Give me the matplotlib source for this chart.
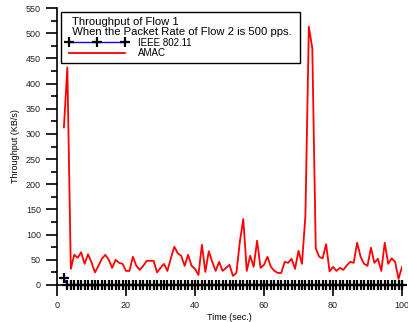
import matplotlib
matplotlib.use("Agg")
import matplotlib.pyplot as plt
from matplotlib.ticker import MultipleLocator

plt.rcParams['font.family'] = ['Liberation Sans', 'DejaVu Sans']

time_ieee = list(range(2, 101))
thr_ieee = [13] + [0] * 98

time_amac = list(range(2, 101))
thr_amac = [313, 432, 32, 60, 54, 65, 42, 61, 45, 25,
            38, 52, 60, 50, 34, 50, 44, 42, 28, 28,
            56, 38, 30, 38, 48, 48, 48, 25, 34, 42,
            28, 53, 76, 63, 58, 38, 60, 38, 32, 20,
            80, 26, 67, 46, 28, 46, 28, 34, 40, 18,
            24, 86, 131, 28, 58, 36, 88, 34, 40, 56,
            36, 28, 24, 24, 46, 44, 52, 32, 68, 42,
            137, 513, 470, 73, 56, 53, 81, 27, 36, 28,
            34, 30, 39, 46, 44, 84, 56, 42, 38, 74,
            44, 52, 28, 84, 42, 53, 46, 12, 36]

legend_title = "  Throughput of Flow 1\n  When the Packet Rate of Flow 2 is 500 pps. "
labels = ["IEEE 802.11", "AMAC"]

fig = plt.figure(figsize=(4.08, 3.22), dpi=100)
ax = fig.add_axes([57/408, 1-285/322, 345/408, 277/322])

ax.plot(time_ieee, thr_ieee, color='blue', lw=1.0, marker='+', ms=6.5, mew=1.6,
        mec='black', label=labels[0], clip_on=False, zorder=3)
ax.plot(time_amac, thr_amac, color='red', lw=1.3, label=labels[1])

ax.set_xlim(0, 100)
ax.set_ylim(0, 550)
ax.xaxis.set_major_locator(MultipleLocator(20))
ax.yaxis.set_major_locator(MultipleLocator(50))
ax.yaxis.set_minor_locator(MultipleLocator(25))
for s in ['top', 'right']:
    ax.spines[s].set_visible(False)
ax.spines['left'].set_linewidth(1.2)
ax.spines['bottom'].set_linewidth(1.2)
ax.tick_params(axis='both', which='major', direction='out', length=8, width=1.2,
               labelsize=6.5, colors='black', labelcolor='#222222')
ax.tick_params(axis='y', which='minor', direction='out', length=4, width=1.2)
ax.set_xlabel("Time (sec.)", fontsize=6.5, labelpad=2)
ax.set_ylabel("Throughput (KB/s)", fontsize=6.5, labelpad=4)

leg = ax.legend(title=legend_title, loc='upper left', bbox_to_anchor=(0.0115, 0.985),
                fontsize=7, title_fontsize=8.1, frameon=True, fancybox=False,
                edgecolor='black', framealpha=1, handlelength=6.4, numpoints=3,
                alignment='left', borderpad=0.5, labelspacing=0.05,
                handletextpad=1.0, borderaxespad=0)
leg.get_title().set_linespacing(1.05)
leg.get_frame().set_linewidth(1.0)

fig.savefig("out.png", dpi=100)
